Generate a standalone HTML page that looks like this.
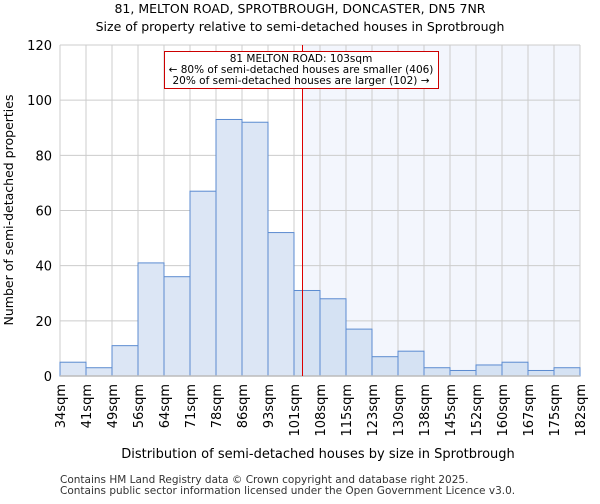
<!DOCTYPE html>
<html><head><meta charset="utf-8"><style>
body{margin:0;background:#fff;font-family:"DejaVu Sans","Liberation Sans",sans-serif;}
</style></head><body>
<svg width="600" height="500" xmlns="http://www.w3.org/2000/svg" font-family="DejaVu Sans, Liberation Sans, sans-serif">
<text x="300" y="13" text-anchor="middle" font-size="12.5">81, MELTON ROAD, SPROTBROUGH, DONCASTER, DN5 7NR</text>
<text x="300" y="31" text-anchor="middle" font-size="12.5">Size of property relative to semi-detached houses in Sprotbrough</text>
<g id="plot"></g>
<text x="318" y="458" text-anchor="middle" font-size="13">Distribution of semi-detached houses by size in Sprotbrough</text>
<text transform="translate(13,210) rotate(-90)" text-anchor="middle" font-size="12.5">Number of semi-detached properties</text>
<text x="60" y="483" font-size="10.5" fill="#333">Contains HM Land Registry data © Crown copyright and database right 2025.</text>
<text x="60" y="494" font-size="10.5" fill="#333">Contains public sector information licensed under the Open Government Licence v3.0.</text>
</svg>
<script>
const categories=["34sqm","41sqm","49sqm","56sqm","64sqm","71sqm","78sqm","86sqm","93sqm","101sqm","108sqm","115sqm","123sqm","130sqm","138sqm","145sqm","152sqm","160sqm","167sqm","175sqm","182sqm"];
const counts=[5,3,11,41,36,67,93,92,52,31,28,17,7,9,3,2,4,5,2,3];
const yTicks=[0,20,40,60,80,100,120];
const propertyBinPos=[9.29]; // property 103sqm in bin units
const L=60,R=580,T=45,B=376,yMax=120;
const n=counts.length;
const xs=i=>L+(R-L)*i/n;
const ys=v=>B-(B-T)*v/yMax;
const ns="http://www.w3.org/2000/svg";
const g=document.getElementById('plot');
function mk(tag,attrs){const e=document.createElementNS(ns,tag);for(const k in attrs)e.setAttribute(k,attrs[k]);g.appendChild(e);return e;}
const px=Math.round(xs(propertyBinPos[0]))+0.5;
let e=mk('rect',{x:px,y:T,width:R-px,height:B-T,fill:'#f3f6fd'});


yTicks.forEach(v=>{
 let l=mk('line',{x1:L,x2:R,y1:ys(v),y2:ys(v),stroke:'#ccc','stroke-width':1});
 
 
 let t=mk('text',{x:L-8,y:ys(v)+5,'text-anchor':'end','font-size':13});
 t.textContent=v;
 
 
});
categories.forEach((c,i)=>{
 let l=mk('line',{x1:xs(i),x2:xs(i),y1:T,y2:B,stroke:'#ccc','stroke-width':1});
 
 
 let t=mk('text',{transform:`translate(${xs(i)+5},384) rotate(-90)`,'text-anchor':'end','font-size':13});
 t.textContent=c;
 
 
});
counts.forEach((v,i)=>{
 let r=mk('rect',{x:xs(i),y:ys(v),width:xs(i+1)-xs(i),height:B-ys(v),fill:i>=9?'#d5e2f3':'#dce6f5',stroke:'#5b8bd0','stroke-width':1});
 
 
});
e=mk('line',{x1:L,x2:R,y1:B,y2:B,stroke:'#bbb','stroke-width':1.5});


e=mk('line',{x1:px,x2:px,y1:T,y2:B,stroke:'#dd0000','stroke-width':1});


e=mk('rect',{x:164.5,y:51.5,width:274,height:37,fill:'#fff',stroke:'#cc0000','stroke-width':1});


["81 MELTON ROAD: 103sqm","← 80% of semi-detached houses are smaller (406)","20% of semi-detached houses are larger (102) →"].forEach((s,i)=>{
 let t=mk('text',{x:301,y:62+i*11,'text-anchor':'middle','font-size':10.5});
 t.textContent=s;
 
 
});
</script>
</body></html>
